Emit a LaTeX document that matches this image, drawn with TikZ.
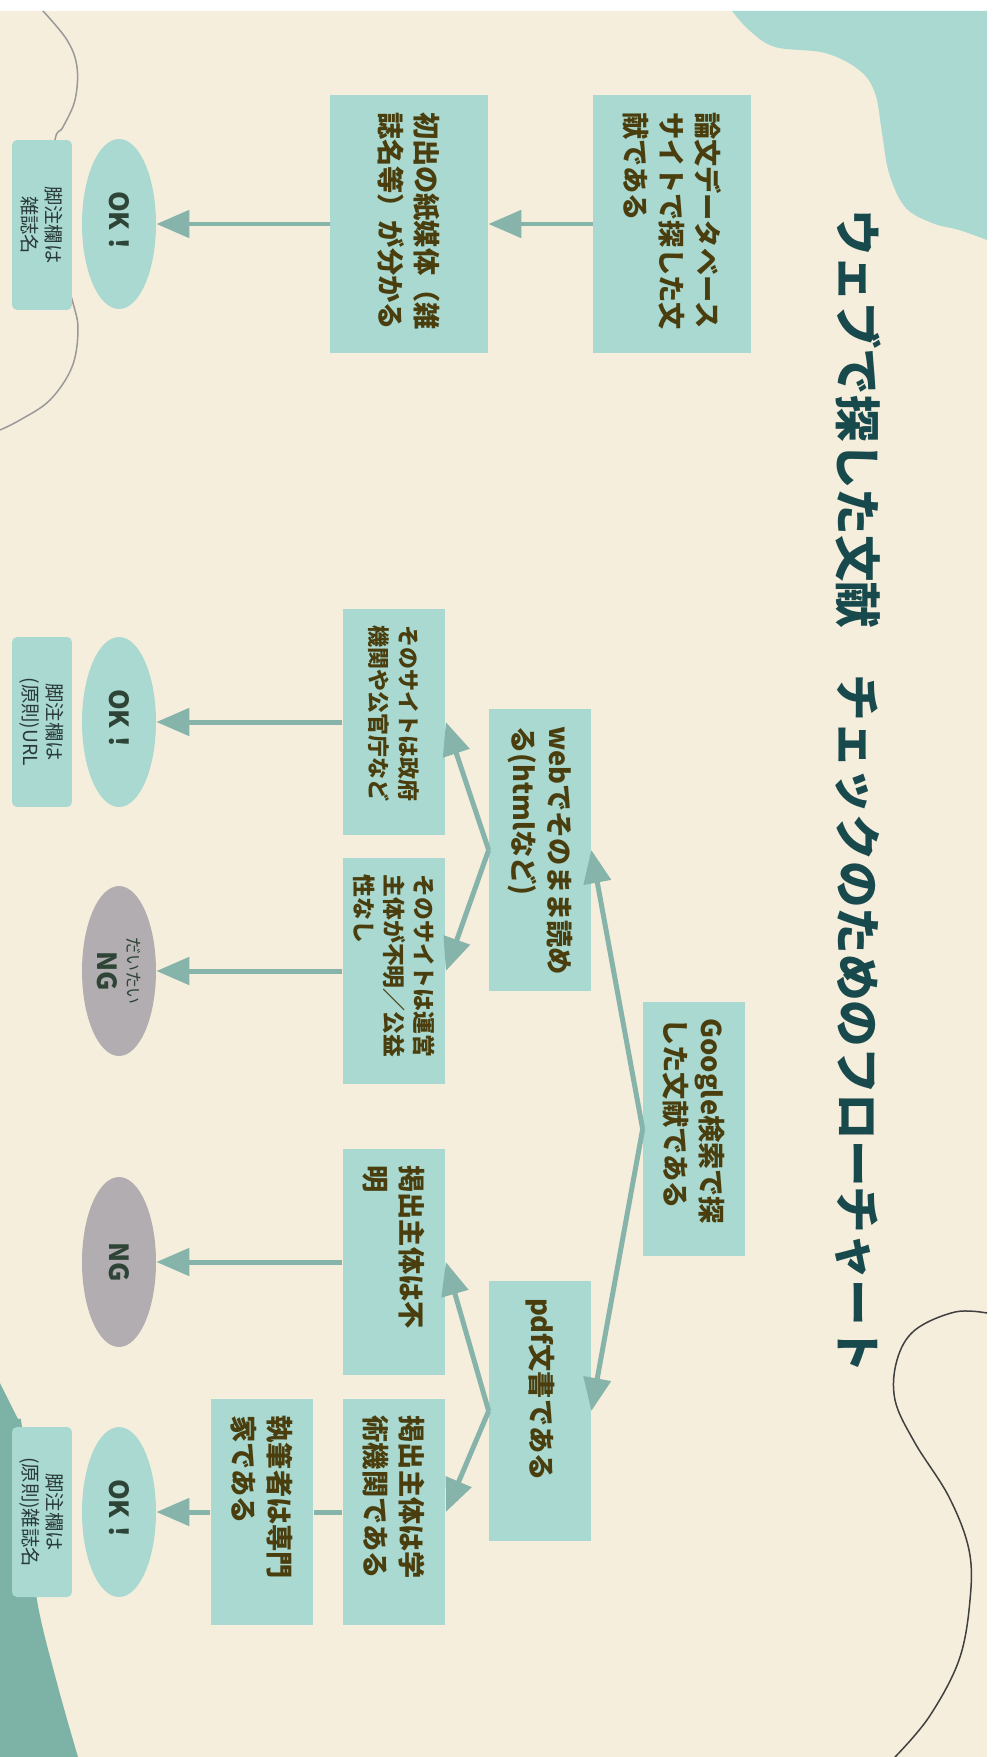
\documentclass[tikz,border=0pt]{standalone}
\usepackage{fontspec}
\setmainfont{Noto Sans CJK JP}
\usetikzlibrary{arrows.meta,shapes.geometric}

\definecolor{cream}{HTML}{F6EEDD}
\definecolor{boxteal}{HTML}{A9D9D0}
\definecolor{darkteal}{HTML}{7DB3A6}
\definecolor{arrowteal}{HTML}{86B4AA}
\definecolor{nggray}{HTML}{B2ADB0}
\definecolor{boxtext}{HTML}{4A3E0E}
\definecolor{titletext}{HTML}{184A4D}
\definecolor{oktext}{HTML}{2E4436}
\definecolor{fntext}{HTML}{2A3A3A}

\tikzset{box/.style={rectangle, fill=boxteal, text=boxtext, align=left, inner xsep=0.34cm, inner ysep=0pt,
  font=\bfseries\fontsize{15.5}{20.5}\selectfont},
tallbox/.style={box, text width=4.48cm, minimum height=3.16cm},
smallbox/.style={box, text width=3.86cm, minimum height=2.06cm},
%end points of the chart
ok/.style={ellipse, fill=boxteal, text=oktext, minimum width=3.4cm, minimum height=1.48cm, inner sep=0pt,
  align=center, font=\bfseries\fontsize{15}{17}\selectfont},
ng/.style={ok, fill=nggray},
fn/.style={rectangle, rounded corners=0.1cm, fill=boxteal, text=fntext, minimum width=3.4cm, minimum height=1.2cm,
  inner sep=0pt, align=center, font=\fontsize{11}{13.5}\selectfont},
flow/.style={draw=arrowteal, line width=0.1cm, -{Triangle[length=0.66cm, width=0.54cm]}}}

\begin{document}
\begin{tikzpicture}[x=0.02cm, y=0.02cm, rotate=-90, transform shape]

% sheet, lying on its side (1 unit = 1px)
\useasboundingbox (0,0) rectangle (1757,992);
\fill[white] (0,0) rectangle (1757,992);
\fill[cream] (11,0) rectangle (1757,987);

% corner blobs
\fill[boxteal] plot[smooth, tension=0.6] coordinates {(11,732) (30,749) (47,775) (53,825) (70,859) (93,875)
  (133,882) (173,889) (207,905) (223,932) (230,959) (240,987)} -- (11,987) -- cycle;
\fill[darkteal] plot[smooth, tension=0.6] coordinates {(1383,0) (1417,17) (1427,22) (1520,30) (1600,37)
  (1683,57) (1757,78)} -- (1757,0) -- cycle;

% thin wavy lines
\draw[line width=0.03cm, gray!80] plot[smooth, tension=0.6] coordinates {(11,43) (40,67) (67,77) (100,75)
  (127,63) (140,55) (200,50) (260,60) (303,73) (330,78) (367,72) (400,50) (420,20) (430,0)};
\draw[line width=0.03cm, black!75] plot[smooth, tension=0.6] coordinates {(1313,987) (1312,955) (1330,915)
  (1360,897) (1400,895) (1443,915) (1497,949) (1550,969) (1600,970) (1660,959) (1717,929) (1757,895)};

\node[text=titletext, font=\bfseries\fontsize{26.5}{30}\selectfont] (title) at (791,858)
  {ウェブで探した文献　チェックのためのフローチャート};

% left branch
\node[tallbox] (ronbun) at (224,672) {論文データベース\\サイトで探した文\\献である};
\node[tallbox] (shoshutsu) at (224,409) {初出の紙媒体（雑\\誌名等）が分かる};
\node[ok] (ok1) at (224,119) {OK！};
\node[fn] (fn1) at (225,42) {脚注欄は\\雑誌名};

% Google branch
\node[box, text width=4.42cm, minimum height=2.04cm] (google) at (1129,694) {Google検索で探\\した文献である};
\node[box, text width=4.96cm, minimum height=2.04cm] (web) at (850,540) {webでそのまま読め\\る(htmlなど)};
\node[box, text width=4.52cm, minimum height=2.04cm] (pdf) at (1411,540) {pdf文書である};

\node[smallbox, font=\bfseries\fontsize{12.5}{17}\selectfont] (gov) at (722,394) {そのサイトは政府\\機関や公官庁など};
\node[smallbox, font=\bfseries\fontsize{13}{17}\selectfont] (unsure) at (971,394) {そのサイトは運営\\主体が不明／公益\\性なし};
\node[smallbox] (pubunk) at (1262,394) {掲出主体は不\\明};
\node[smallbox] (academic) at (1512,394) {掲出主体は学\\術機関である};
\node[smallbox] (expert) at (1512,262) {執筆者は専門\\家である};

\node[ok] (ok2) at (722,119) {OK！};
\node[ng] (ng1) at (971,119) {{\mdseries\fontsize{9.6}{11}\selectfont だいたい}\\NG};
\node[ng] (ng2) at (1262,119) {NG};
\node[ok] (ok3) at (1512,119) {OK！};
\node[fn] (fn2) at (722,42) {脚注欄は\\(原則)URL};
\node[fn] (fn3) at (1512,42) {脚注欄は\\(原則)雑誌名};

\foreach \a/\b in {ronbun/shoshutsu, shoshutsu/ok1, google/web, google/pdf, web/gov, web/unsure,
  pdf/pubunk, pdf/academic, gov/ok2, unsure/ng1, pubunk/ng2, expert/ok3}
  \draw[flow] (\a.south) -- (\b.north);
\draw[draw=arrowteal, line width=0.1cm] (academic.south) -- (expert.north);

\end{tikzpicture}
\end{document}
